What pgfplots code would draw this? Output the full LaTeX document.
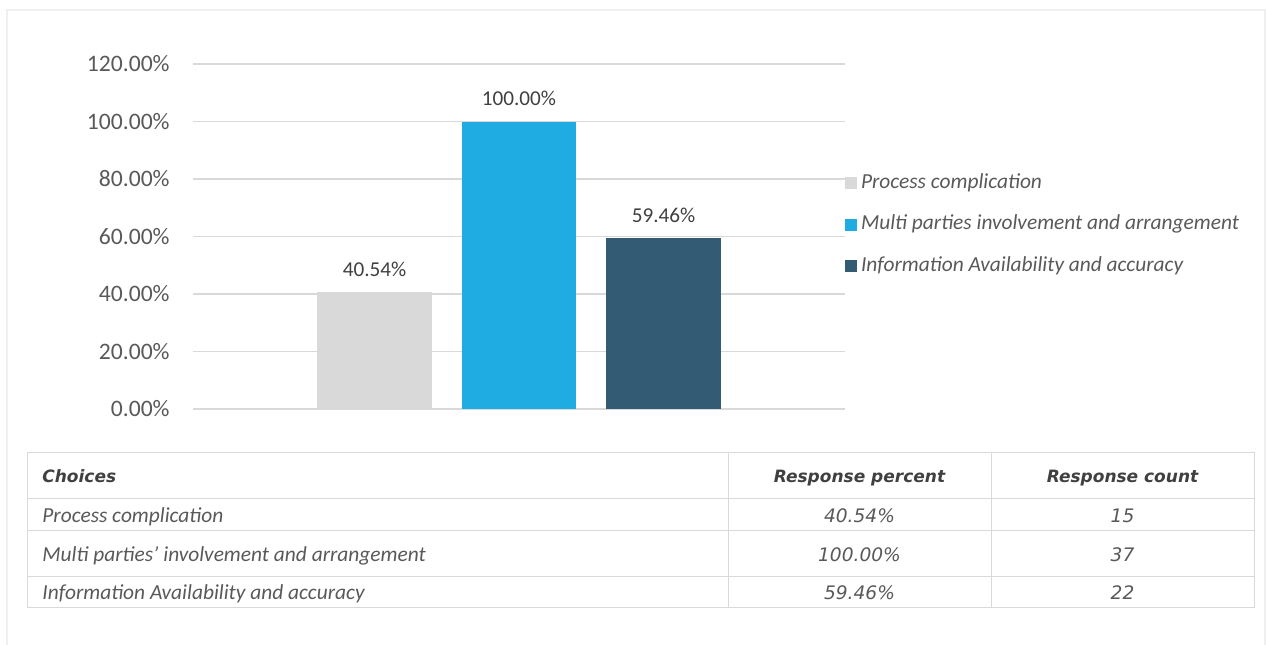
\documentclass[border=0pt]{standalone}
\usepackage{fontspec}
\setmainfont{Carlito}
\newfontfamily\verd{DejaVu Sans}
\usepackage{pgfplots}
\pgfplotsset{compat=1.18}
\definecolor{gridgray}{HTML}{D9D9D9}
\definecolor{tickgray}{HTML}{595959}
\definecolor{labelgray}{HTML}{404040}
\definecolor{barA}{HTML}{D9D9D9}
\definecolor{barB}{HTML}{1EACE3}
\definecolor{barC}{HTML}{345B74}
\definecolor{framegray}{HTML}{EFEFEF}
\begin{document}
\begin{tikzpicture}
\begin{scope}[x=0.5pt,y=-0.5pt]
\useasboundingbox (0,0) rectangle (1266,644);
% outer frame
\draw[framegray, line width=1pt] (7,650) -- (7,10) -- (1265,10) -- (1265,650);
% table grid
\draw[gridgray, line width=0.5pt] (27,452) rectangle (1254,607);
\foreach \yy in {498,530,576} \draw[gridgray, line width=0.5pt] (27,\yy) -- (1254,\yy);
\foreach \xx in {728,991} \draw[gridgray, line width=0.5pt] (\xx,452) -- (\xx,607);
% header
\begin{scope}[every node/.style={inner sep=0pt, text=labelgray, font=\verd\bfseries\itshape\fontsize{8.5}{10}\selectfont}]
\node[anchor=mid west] at (42,478) {Choices};
\node[anchor=mid] at (859.5,478) {Response percent};
\node[anchor=mid] at (1122.5,478) {Response count};
\end{scope}
\begin{scope}[every node/.style={inner sep=0pt, text=tickgray, font=\itshape\fontsize{10.7}{12}\selectfont}]
\node[anchor=mid west] at (42,517.5) {Process complication};
\node[anchor=mid west] at (42,556.5) {Multi parties’ involvement and arrangement};
\node[anchor=mid west] at (42,595) {Information Availability and accuracy};
\end{scope}
\begin{scope}[every node/.style={inner sep=0pt, text=tickgray, font=\verd\itshape\fontsize{9.3}{11}\selectfont}]
\node[anchor=mid] at (859.5,518) {40.54\%};
\node[anchor=mid] at (859.5,557) {100.00\%};
\node[anchor=mid] at (859.5,595) {59.46\%};
\node[anchor=mid] at (1122.5,518) {15};
\node[anchor=mid] at (1122.5,557) {37};
\node[anchor=mid] at (1122.5,595) {22};
\end{scope}
\end{scope}
\begin{axis}[
  at={(96.5pt,-204.5pt)}, anchor=south west,
  scale only axis, width=326pt, height=172.5pt,
  xmin=-1.256, xmax=3.256, ymin=0, ymax=120,
  ytick={0,20,40,60,80,100,120}, xtick=\empty,
  axis line style={draw=none},
  major tick length=0pt,
  ymajorgrids, grid style={color=gridgray, line width=0.75pt},
  /pgf/number format/assume math mode=true,
  yticklabel={\pgfmathprintnumber[fixed,fixed zerofill,precision=2]{\tick}\%},
  yticklabel style={font=\fontsize{11.8}{13}\selectfont, text=tickgray, anchor=east, inner sep=0pt, xshift=-11.5pt},
  ybar, bar width=0.79, bar shift=0pt,
  nodes near coords={\pgfmathprintnumber[fixed,fixed zerofill,precision=2]{\pgfplotspointmeta}\%},
  nodes near coords style={font=\fontsize{10.6}{12}\selectfont, text=labelgray, anchor=south, inner sep=0pt, yshift=7.5pt},
  legend image code/.code={\fill[#1] (0pt,-3pt) rectangle (6pt,3pt);},
  legend style={at={(1,0.681)}, anchor=north west, draw=none, fill=none, inner sep=0pt, outer sep=0pt,
    row sep=11.75pt, column sep=2pt,
    nodes={inner sep=0pt, text height=7pt, text depth=2pt, text=tickgray, font=\itshape\fontsize{10.7}{12}\selectfont}},
  legend cell align=left,
  clip=false,
]
\addplot[fill=barA, draw=none] coordinates {(0,40.54)};
\addlegendentry{Process complication}
\addplot[fill=barB, draw=none] coordinates {(1,100.00)};
\addlegendentry{Multi parties involvement and arrangement}
\addplot[fill=barC, draw=none] coordinates {(2,59.46)};
\addlegendentry{Information Availability and accuracy}
\end{axis}
\end{tikzpicture}
\end{document}
